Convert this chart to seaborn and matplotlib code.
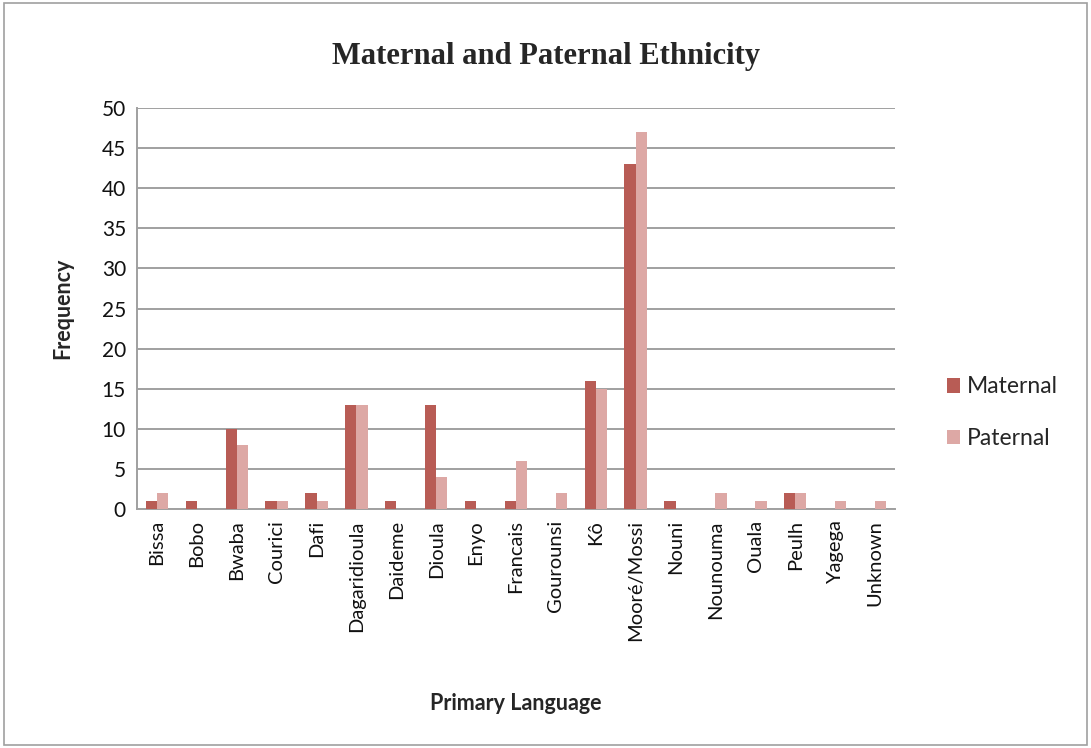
import pandas as pd
import matplotlib.pyplot as plt
import seaborn as sns
from matplotlib.patches import Rectangle

# -------------------------------
# Data
# -------------------------------
languages = ["Bissa", "Bobo", "Bwaba", "Courici", "Dafi", "Dagaridioula", "Daideme",
             "Dioula", "Enyo", "Francais", "Gourounsi", "Kô", "Mooré/Mossi", "Nouni",
             "Nounouma", "Ouala", "Peulh", "Yagega", "Unknown"]
maternal = [1, 1, 10, 1, 2, 13, 1, 13, 1, 1, 0, 16, 43, 1, 0, 0, 2, 0, 0]
paternal = [2, 0, 8, 1, 1, 13, 0, 4, 0, 6, 2, 15, 47, 0, 2, 1, 2, 1, 1]

df = pd.DataFrame({"language": languages * 2,
                   "freq": maternal + paternal,
                   "parent": ["Maternal"] * len(languages) + ["Paternal"] * len(languages)})

# -------------------------------
# Plot
# -------------------------------
sns.set_style("white")
plt.rcParams['font.family'] = ['Lato', 'DejaVu Sans']

fig = plt.figure(figsize=(10.91, 7.48), dpi=100)
ax = fig.add_axes([0.1256, 0.3195, 0.6947, 0.5361])

sns.barplot(data=df, x="language", y="freq", hue="parent", order=languages,
            palette={"Maternal": "#B85C55", "Paternal": "#DDA8A5"},
            width=0.56, saturation=1, linewidth=0, edgecolor="none", ax=ax, zorder=3)

ax.set_ylim(0, 50)
ax.set_yticks(range(0, 51, 5))
ax.yaxis.grid(True, color="#A0A0A0", linewidth=1.4, zorder=0)
ax.set_axisbelow(True)
for s in ["top", "right"]:
    ax.spines[s].set_visible(False)
for s in ["left", "bottom"]:
    ax.spines[s].set_color("#A0A0A0")
    ax.spines[s].set_linewidth(1.4)

ax.tick_params(axis="y", labelsize=15, length=0, pad=8, labelcolor="#111111")
ax.tick_params(axis="x", labelsize=14.5, length=0, rotation=90, pad=8, labelcolor="#111111")

ax.set_xlabel("Primary Language", fontsize=15.5, fontweight="bold", va="center")
ax.xaxis.set_label_coords(0.5, -0.484)
ax.set_ylabel("Frequency", fontsize=15.5, fontweight="bold", va="center")
ax.yaxis.set_label_coords(-0.098, 0.5)
fig.text(0.5, 0.925, "Maternal and Paternal Ethnicity", ha="center", va="center",
         fontsize=22, fontweight="bold", family=["Liberation Serif", "DejaVu Serif"])

ax.legend(title=None, frameon=False, loc="center left", bbox_to_anchor=(1.053, 0.24),
          borderpad=0, fontsize=16.5, labelspacing=1.35, handlelength=0.6,
          handleheight=0.6, handletextpad=0.3)

fig.patches.append(Rectangle((0.004, 0.004), 0.992, 0.992, transform=fig.transFigure,
                             fill=False, edgecolor="#A0A0A0", linewidth=1.2))

plt.savefig("out.png", dpi=100)
